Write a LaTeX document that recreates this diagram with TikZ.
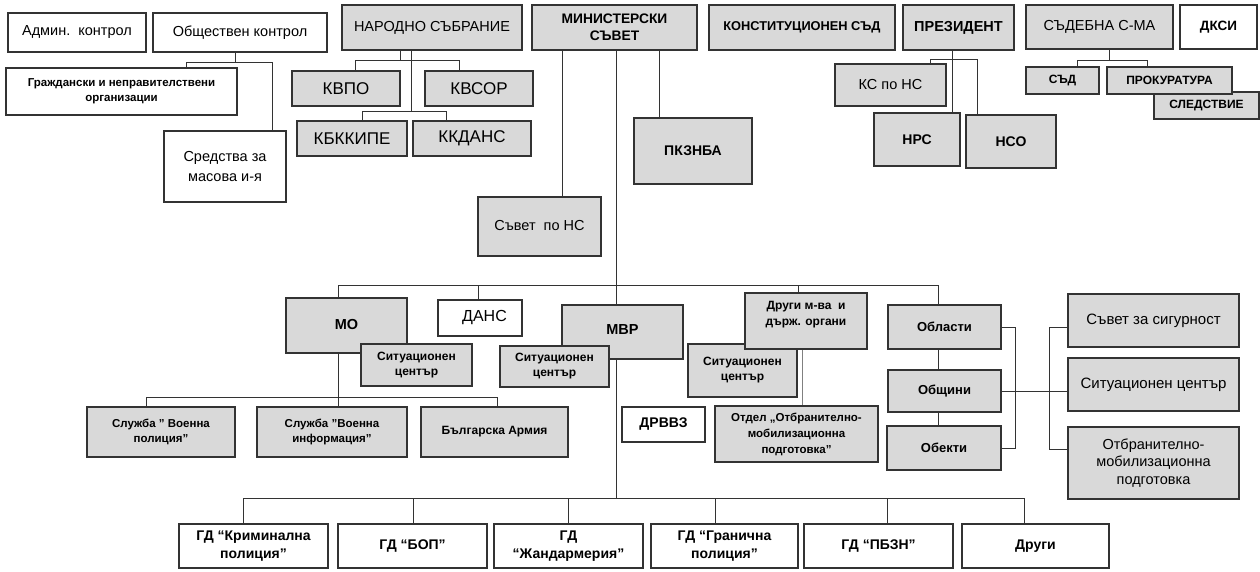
\documentclass[tikz,border=0pt]{standalone}
\usepackage{fontspec}
\setmainfont{Liberation Sans}
\definecolor{boxgray}{HTML}{D9D9D9}
\definecolor{edge}{HTML}{333333}
\newcommand\fz[2]{\fontsize{#1}{#2}\selectfont}
\tikzset{
  box/.style={draw=edge, line width=1.2pt, inner sep=0pt, outer sep=0pt, align=center, fill=white},
  gbox/.style={box, fill=boxgray},
  conn/.style={draw=edge, line width=1pt},
  dbl/.style={draw=gray, line width=0.7pt, double=white, double distance=0.9pt},
}
% [style]{name}{x1}{y1}{x2}{y2}{text}
\newcommand\bx[7][]{\node[#1,minimum width={(#5-#3)*1pt},minimum height={(#6-#4)*1pt}] (#2) at ({(#3+#5)/2},{(#4+#6)/2}) {#7};}
\begin{document}
\begin{tikzpicture}[x=1pt,y=-1pt]
\fill[white] (0,0) rectangle (1260,571);
\useasboundingbox (0,0) rectangle (1260,571);

% ---------- upper boxes ----------
\bx[box,font={\fz{14.5}{17}}]{admin}{8}{13}{146}{52}{Админ.\ \ контрол}
\bx[box,font={\fz{14.5}{17}}]{obsh}{153}{13}{327}{52}{Обществен контрол}
\bx[box,font={\bfseries\fz{11.5}{15}}]{grazh}{6}{68}{237}{115}{Граждански и неправителствени\\организации}
\bx[box,font={\fz{14.5}{20}}]{sred}{164}{131}{286}{202}{Средства за\\масова и-я}
\bx[gbox,font={\fz{14.5}{16}}]{ns}{342}{5}{522}{50}{НАРОДНО СЪБРАНИЕ}
\bx[gbox,font={\fz{17}{20}}]{kvpo}{292}{71}{400}{106}{КВПО}
\bx[gbox,font={\fz{17}{20}}]{kvsor}{425}{71}{533}{106}{КВСОР}
\bx[gbox,font={\fz{17}{20}}]{kbk}{297}{121}{407}{156}{КБККИПЕ}
\bx[gbox,font={\fz{17}{20}}]{kkd}{413}{121}{531}{156}{ККДАНС}
\bx[gbox,font={\bfseries\fz{13.8}{17}}]{ms}{532}{5}{697}{50}{МИНИСТЕРСКИ\\СЪВЕТ}
\bx[gbox,font={\bfseries\fz{12.8}{16}}]{ks}{709}{5}{895}{50}{КОНСТИТУЦИОНЕН СЪД}
\bx[gbox,font={\bfseries\fz{14.5}{16}}]{prez}{903}{5}{1014}{50}{ПРЕЗИДЕНТ}
\bx[gbox,font={\fz{14.5}{16}}]{sud}{1026}{5}{1173}{49}{СЪДЕБНА С-МА}
\bx[box,font={\bfseries\fz{13.5}{16}}]{dksi}{1180}{5}{1257}{49}{ДКСИ}
\bx[gbox,font={\bfseries\fz{12}{13}}]{sad}{1026}{67}{1099}{94}{СЪД}
\bx[gbox,font={\bfseries\fz{12}{13}}]{sled}{1154}{92}{1259}{119}{СЛЕДСТВИЕ}
\bx[gbox,font={\bfseries\fz{12}{13}}]{prok}{1107}{67}{1232}{94}{ПРОКУРАТУРА}
\bx[gbox,font={\fz{14.5}{17}}]{ksns}{835}{64}{946}{106}{КС по НС}
\bx[gbox,font={\bfseries\fz{14}{17}}]{nrs}{874}{113}{960}{166}{НРС}
\bx[gbox,font={\bfseries\fz{14}{17}}]{nso}{966}{115}{1056}{168}{НСО}
\bx[gbox,font={\bfseries\fz{14}{17}}]{pkz}{634}{118}{752}{184}{ПКЗНБА}
\bx[gbox,font={\fz{14.5}{16}}]{sns}{478}{197}{601}{256}{\raisebox{3pt}{Съвет\ \ по НС}}

% ---------- connectors ----------
\coordinate (oA) at (186,62); \coordinate (oB) at (272,62); \coordinate (oS) at (235,62);
\draw[conn] (obsh.south -| oS) -- (oS) (grazh.north -| oA) |- (oB) -- (oB |- sred.north);
\coordinate (nA) at (355,60); \coordinate (nB) at (459,60); \coordinate (nS) at (400,60);
\draw[conn] (ns.south -| nS) -- (nS) (kvpo.north -| nA) |- (nB) -- (nB |- kvsor.north);
\coordinate (nC) at (362,111); \coordinate (nD) at (446,111); \coordinate (nT) at (411,111);
\draw[conn] (ns.south -| nT) -- (nT) (kbk.north -| nC) |- (nD) -- (nD |- kkd.north);
\coordinate (m1) at (562,0); \coordinate (m3) at (659,0);
\draw[conn] (ms.south -| m1) -- (sns.north -| m1);
\draw[conn] (ms.south -| m3) -- (pkz.north -| m3);
\coordinate (tB) at (616,498);
\draw[conn] (ms.south -| tB) -- (tB);
\coordinate (p1) at (952,0); \coordinate (pA) at (930,59); \coordinate (pB) at (977,59);
\draw[conn] (prez.south -| p1) -- (nrs.north -| p1);
\draw[conn] (ksns.north -| pA) |- (pB) -- (pB |- nso.north);
\coordinate (sS) at (1109,60); \coordinate (sA) at (1077,60); \coordinate (sB) at (1147,60);
\draw[conn] (sud.south -| sS) -- (sS) (sad.north -| sA) |- (sB) -- (sB |- prok.north);

% middle bus
\coordinate (b1) at (338,285); \coordinate (b2) at (938,285); \coordinate (bD) at (798,285);
\coordinate (bN) at (478,285);
\draw[conn] (b1) -- (b2);
\draw[conn] (b1) -- (b1 |- 0,298);
\draw[conn] (bN) -- (bN |- 0,300);
\draw[conn] (bD) -- (bD |- 0,293);
\draw[conn] (b2) -- (b2 |- 0,305);

% MO branch
\coordinate (q1) at (146,397); \coordinate (q2) at (338,397); \coordinate (q3) at (497,397);
\draw[conn] (q2 |- 0,353) -- (q2 |- 0,407);
\draw[conn] (q1 |- 0,407) |- (q3) -- (q3 |- 0,407);

% bottom bus
\coordinate (g1) at (243,498); \coordinate (g2) at (413,498); \coordinate (g3) at (568,498);
\coordinate (g4) at (715,498); \coordinate (g5) at (887,498); \coordinate (g6) at (1024,498);
\draw[conn] (g1) -- (g6);
\foreach \g in {g1,g2,g3,g4,g5,g6} \draw[conn] (\g) -- (\g |- 0,524);

% regions column
\draw[conn] (b2 |- 0,349) -- (b2 |- 0,370);
\draw[conn] (b2 |- 0,412) -- (b2 |- 0,426);
\coordinate (r1) at (1015,400);
\draw[conn] (1001,327) -| (r1) |- (1001,448);
\coordinate (lA) at (1049,327); \coordinate (lB) at (1049,449);
\draw[conn] (1068,327) -- (lA) -- (lB) -- (1068,449);
\draw[conn] (1001,391) -- (1068,391);
\draw[dbl] (803,349) -- (803,406);

% ---------- lower boxes ----------
\bx[gbox,font={\bfseries\fz{14.5}{17}}]{mo}{286}{298}{407}{353}{\raisebox{2pt}{МО}}
\bx[box,font={\fz{16}{19}}]{dans}{438}{300}{522}{336}{\hspace*{9pt}ДАНС}
\bx[gbox,font={\bfseries\fz{14.5}{17}}]{mvr}{562}{305}{683}{359}{\raisebox{4pt}{МВР}}
\bx[gbox,font={\bfseries\fz{12}{15}}]{sc1}{361}{344}{472}{386}{Ситуационен\\център}
\bx[gbox,font={\bfseries\fz{12}{15}}]{sc2}{500}{346}{609}{387}{Ситуационен\\център}
\bx[gbox,font={\bfseries\fz{12}{15}}]{sc3}{688}{344}{797}{397}{Ситуационен\\център}
\bx[gbox]{drugi}{745}{293}{867}{349}{}
\node[font={\bfseries\fz{12}{16}},align=center,yshift=6pt] (drugit) at (drugi.center) {Други м-ва\ \ и\\държ. органи};
\bx[gbox,font={\bfseries\fz{13}{16}}]{obl}{888}{305}{1001}{349}{Области}
\bx[gbox,font={\bfseries\fz{13}{16}}]{obsht}{888}{370}{1001}{412}{Общини}
\bx[gbox,font={\bfseries\fz{13}{16}}]{obek}{887}{426}{1001}{470}{Обекти}
\bx[gbox,font={\fz{15}{16}}]{ss}{1068}{294}{1239}{347}{Съвет за сигурност}
\bx[gbox,font={\fz{15}{16}}]{scR}{1068}{358}{1239}{411}{Ситуационен център}
\bx[gbox,font={\fz{14.5}{17.5}}]{otbr}{1068}{427}{1239}{499}{Отбранително-\\мобилизационна\\подготовка}
\bx[gbox,font={\bfseries\fz{11.5}{14.5}}]{sl1}{87}{407}{235}{457}{Служба " Военна\\полиция"}
\bx[gbox,font={\bfseries\fz{11.5}{14.5}}]{sl2}{257}{407}{407}{457}{Служба "Военна\\информация"}
\bx[gbox,font={\bfseries\fz{12}{14.5}}]{arm}{421}{407}{568}{457}{Българска Армия}
\bx[box,font={\bfseries\fz{14}{17}}]{drvvz}{622}{407}{705}{442}{ДРВВЗ}
\bx[gbox,font={\bfseries\fz{11.5}{16}}]{otdel}{715}{406}{878}{462}{Отдел „Отбранително-\\мобилизационна\\подготовка"}
\bx[box,font={\bfseries\fz{14}{18}}]{gd1}{179}{524}{328}{568}{ГД “Криминална\\полиция”}
\bx[box,font={\bfseries\fz{14}{18}}]{gd2}{338}{524}{487}{568}{ГД “БОП”}
\bx[box,font={\bfseries\fz{14}{18}}]{gd3}{494}{524}{643}{568}{ГД\\“Жандармерия”}
\bx[box,font={\bfseries\fz{14}{18}}]{gd4}{651}{524}{798}{568}{ГД “Гранична\\полиция”}
\bx[box,font={\bfseries\fz{14}{18}}]{gd5}{804}{524}{953}{568}{ГД “ПБЗН”}
\bx[box,font={\bfseries\fz{14}{18}}]{gd6}{962}{524}{1109}{568}{Други}
\end{tikzpicture}
\end{document}
